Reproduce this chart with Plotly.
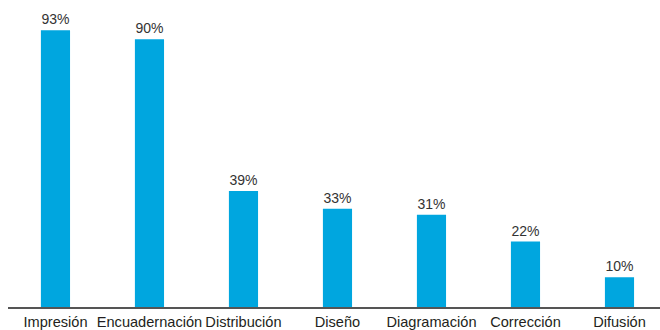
import plotly.graph_objects as go

# Share of responses per publishing stage
categories = ["Impresión", "Encuadernación", "Distribución", "Diseño",
              "Diagramación", "Corrección", "Difusión"]
values = [93, 90, 39, 33, 31, 22, 10]
value_labels = [f"{v}%" for v in values]

positions = list(range(len(categories)))

fig = go.Figure(
    go.Bar(
        x=positions,
        y=values,
        width=0.31,
        marker=dict(color="#00A6DF", line=dict(width=0)),
        text=value_labels,
        textposition="outside",
        textfont=dict(family="Liberation Sans, Arial, sans-serif", size=14, color="#333333"),
        cliponaxis=False,
        hoverinfo="skip",
    )
)

fig.update_layout(
    width=660,
    height=330,
    margin=dict(l=8, r=0, t=0, b=23),
    paper_bgcolor="white",
    plot_bgcolor="white",
    showlegend=False,
    font=dict(family="Liberation Sans, Arial, sans-serif", size=14, color="#231F20"),
    xaxis=dict(
        range=[-0.505, 6.431],
        tickvals=positions,
        ticktext=categories,
        showgrid=False,
        zeroline=False,
        showline=True,
        linecolor="#555555",
        linewidth=2,
        ticks="",
        tickfont=dict(size=14.6, color="#231F20"),
        fixedrange=True,
    ),
    yaxis=dict(
        range=[0, 103.2],
        visible=False,
        showgrid=False,
        zeroline=False,
        fixedrange=True,
    ),
)

fig.write_html("out.html")
